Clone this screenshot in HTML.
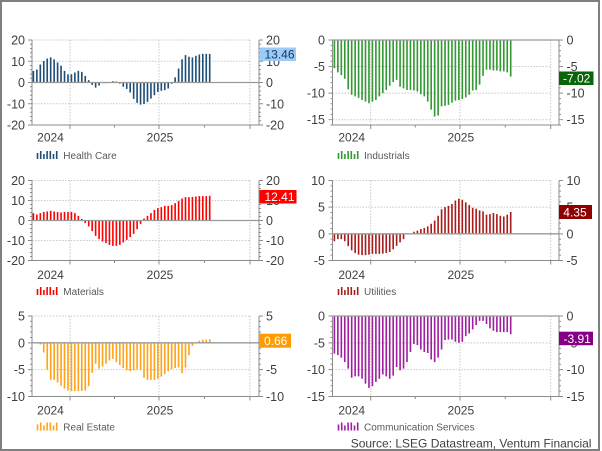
<!DOCTYPE html>
<html><head><meta charset="utf-8"><style>html,body{margin:0;padding:0;background:#fff}svg{display:block}</style></head>
<body>
<svg width="602" height="451" viewBox="0 0 602 451" xmlns="http://www.w3.org/2000/svg" font-family="'Liberation Sans', Arial, sans-serif">
<rect width="602" height="451" fill="#fff"/>
<rect x="1" y="1" width="598" height="449" fill="none" stroke="#7f7f7f" stroke-width="2"/>
<defs>
<path id="t20" d="M-2 -20H0M-2 -18H0M-2 -16H0M-2 -14H0M-2 -12H0M-2 -10H0M-2 -8H0M-2 -6H0M-2 -4H0M-2 -2H0M-2 0H0M-2 2H0M-2 4H0M-2 6H0M-2 8H0M-2 10H0M-2 12H0M-2 14H0M-2 16H0M-2 18H0M-2 20H0M-4 -20H0M-4 -10H0M-4 0H0M-4 10H0M-4 20H0"/>
<path id="t15" d="M-2 -15H0M-2 -14H0M-2 -13H0M-2 -12H0M-2 -11H0M-2 -10H0M-2 -9H0M-2 -8H0M-2 -7H0M-2 -6H0M-2 -5H0M-2 -4H0M-2 -3H0M-2 -2H0M-2 -1H0M-2 0H0M-4 -15H0M-4 -10H0M-4 -5H0M-4 0H0"/>
<g id="leg"><rect x="0" y="-6" width="1.6" height="6"/><rect x="3.2" y="-8" width="1.6" height="8"/><rect x="6.4" y="-5" width="1.6" height="5"/><rect x="9.6" y="-8" width="1.6" height="8"/><rect x="12.8" y="-8" width="1.6" height="8"/><rect x="16" y="-5" width="1.6" height="5"/><rect x="19.2" y="-8" width="1.6" height="8"/></g>
</defs>

<!-- Panel A: Health Care -->
<path d="M32 40H250M32 61.25H250M32 103.75H250M70 40V125M159 40V125M250 40V125" stroke="#c8c8c8" stroke-dasharray="1.5 1.5" fill="none"/>
<g transform="translate(33.4 82.5) scale(3.457 -2.125)" stroke="#1f4e79" stroke-width="0.47" fill="none"><path d="M0 0V5.4M1 0V6.1M2 0V8.5M3 0V10.1M4 0V11.3M5 0V11.8M6 0V10.9M7 0V9.4M8 0V7.9M9 0V5.5M10 0V3.8M11 0V3.9M12 0V4.7M13 0V5.5M14 0V5M15 0V3.1M16 0V1.1M17 0V-1.1M18 0V-2.4M19 0V-1.4M20 0V-0.3M21 0V-0.3M22 0V0.05M23 0V0.6M24 0V0.5M25 0V-0.5M26 0V-2M27 0V-3M28 0V-4.7M29 0V-7.7M30 0V-9.6M31 0V-10.4M32 0V-10.1M33 0V-9.1M34 0V-7.6M35 0V-6M36 0V-4.4M37 0V-3.9M38 0V-3.6M39 0V-2.8M40 0V-0.6M41 0V2.4M42 0V6.6M43 0V10.9M44 0V12.9M45 0V12.1M46 0V11.8M47 0V12.6M48 0V13.2M49 0V13.5M50 0V13.5M51 0V13.46"/></g>
<path d="M32 40V125H259M259 40V125M70 125v4M159 125v4M250 125v4M114.5 125v2.5M204.5 125v2.5" stroke="#8c8c8c" fill="none"/>
<path d="M32 82.5H259" stroke="#999" stroke-width="1.3"/>
<g transform="translate(32 82.5) scale(1 -2.125)" stroke="#8c8c8c" stroke-width="0.47"><use href="#t20"/></g>
<g transform="translate(259 82.5) scale(-1 -2.125)" stroke="#8c8c8c" stroke-width="0.47"><use href="#t20"/></g>
<g font-size="12.5" fill="#404040" text-anchor="end"><text x="25" y="44.5">20</text><text x="25" y="65.75">10</text><text x="25" y="87">0</text><text x="25" y="108.25">-10</text><text x="25" y="129.5">-20</text></g>
<g font-size="12.5" fill="#404040"><text x="266" y="44.5">20</text><text x="266" y="65.75">10</text><text x="266" y="87">0</text><text x="266" y="108.25">-10</text><text x="266" y="129.5">-20</text></g>
<g font-size="12" fill="#404040" text-anchor="middle"><text x="50.5" y="141.7">2024</text><text x="160" y="141.7">2025</text></g>
<use href="#leg" x="36.7" y="159" fill="#1f4e79"/>
<text x="63.3" y="159" font-size="10" fill="#595959">Health Care</text>
<rect x="260" y="47.5" width="36" height="13.5" fill="#9ccbf7"/>
<text x="264.5" y="58.6" font-size="12" fill="#17375e">13.46</text>

<!-- Panel B: Industrials -->
<path d="M332.5 66.56H550.7M332.5 93.13H550.7M332.5 119.69H550.7M370.7 40V125M460 40V125M550.7 40V125" stroke="#c8c8c8" stroke-dasharray="1.5 1.5" fill="none"/>
<g transform="translate(334.4 40) scale(3.457 -5.3125)" stroke="#339933" stroke-width="0.47" fill="none"><path d="M0 0V-5.3M1 0V-6.1M2 0V-6.6M3 0V-7.3M4 0V-9.3M5 0V-10.3M6 0V-10.6M7 0V-10.9M8 0V-11.3M9 0V-11.6M10 0V-11.9M11 0V-11.6M12 0V-11.3M13 0V-10.6M14 0V-10M15 0V-9.4M16 0V-8.6M17 0V-7.9M18 0V-7.5M19 0V-8.8M20 0V-9.1M21 0V-9.4M22 0V-9.4M23 0V-9.5M24 0V-9.7M25 0V-10.2M26 0V-10.6M27 0V-11.6M28 0V-13.1M29 0V-14.4M30 0V-14.2M31 0V-12.5M32 0V-12.4M33 0V-12.2M34 0V-11.8M35 0V-11.4M36 0V-11.3M37 0V-11.1M38 0V-10.8M39 0V-10.3M40 0V-9.5M41 0V-9.4M42 0V-8.4M43 0V-6.75M44 0V-5.6M45 0V-5.6M46 0V-5.75M47 0V-5.75M48 0V-5.9M49 0V-5.9M50 0V-6.1M51 0V-6.9"/></g>
<path d="M332.5 40V125H559M559 40V125M370.7 125v4M460 125v4M550.7 125v4M415.3 125v2.5M505.3 125v2.5" stroke="#8c8c8c" fill="none"/>
<path d="M332.5 40H559" stroke="#999" stroke-width="1.3"/>
<g transform="translate(332.5 40) scale(1 -5.3125)" stroke="#8c8c8c" stroke-width="0.188"><use href="#t15"/><path d="M-2 -16H0"/></g>
<g transform="translate(559 40) scale(-1 -5.3125)" stroke="#8c8c8c" stroke-width="0.188"><use href="#t15"/><path d="M-2 -16H0"/></g>
<g font-size="12.5" fill="#404040" text-anchor="end"><text x="325" y="44.5">0</text><text x="325" y="71.06">-5</text><text x="325" y="97.63">-10</text><text x="325" y="124.19">-15</text></g>
<g font-size="12.5" fill="#404040"><text x="566.5" y="44.5">0</text><text x="566.5" y="71.06">-5</text><text x="566.5" y="97.63">-10</text><text x="566.5" y="124.19">-15</text></g>
<g font-size="12" fill="#404040" text-anchor="middle"><text x="351.7" y="141.7">2024</text><text x="460.8" y="141.7">2025</text></g>
<use href="#leg" x="337.7" y="159" fill="#339933"/>
<text x="364" y="159" font-size="10" fill="#595959">Industrials</text>
<rect x="559" y="71.5" width="34.5" height="13.5" fill="#0a640a"/>
<text x="563" y="82.6" font-size="12" fill="#fff">-7.02</text>

<!-- Panel C: Materials -->
<path d="M32 180.5H250M32 200.5H250M32 240.5H250M70 180.5V260.5M159 180.5V260.5M250 180.5V260.5" stroke="#c8c8c8" stroke-dasharray="1.5 1.5" fill="none"/>
<g transform="translate(33.4 220.5) scale(3.457 -2)" stroke="#ff0000" stroke-width="0.47" fill="none"><path d="M0 0V3.7M1 0V3M2 0V3.7M3 0V4.3M4 0V4.5M5 0V4.8M6 0V4.5M7 0V4.2M8 0V4M9 0V4.3M10 0V4.3M11 0V4.3M12 0V3.7M13 0V2.3M14 0V0.8M15 0V-1.3M16 0V-3M17 0V-5.3M18 0V-7.7M19 0V-9.3M20 0V-10.5M21 0V-11.3M22 0V-12.2M23 0V-12.7M24 0V-12.7M25 0V-12.2M26 0V-11M27 0V-9.7M28 0V-8.3M29 0V-6.7M30 0V-4.3M31 0V-1.7M32 0V1M33 0V2.3M34 0V3.7M35 0V5.3M36 0V6.2M37 0V6.7M38 0V7.3M39 0V7.3M40 0V7.7M41 0V8.7M42 0V9.8M43 0V11M44 0V11.7M45 0V11.7M46 0V11.8M47 0V12M48 0V12.2M49 0V12.2M50 0V12.2M51 0V12.4"/></g>
<path d="M32 180.5V260.5H259M259 180.5V260.5M70 260.5v4M159 260.5v4M250 260.5v4M114.5 260.5v2.5M204.5 260.5v2.5" stroke="#8c8c8c" fill="none"/>
<path d="M32 220.5H259" stroke="#999" stroke-width="1.3"/>
<g transform="translate(32 220.5) scale(1 -2)" stroke="#8c8c8c" stroke-width="0.5"><use href="#t20"/></g>
<g transform="translate(259 220.5) scale(-1 -2)" stroke="#8c8c8c" stroke-width="0.5"><use href="#t20"/></g>
<g font-size="12.5" fill="#404040" text-anchor="end"><text x="25" y="185">20</text><text x="25" y="205">10</text><text x="25" y="225">0</text><text x="25" y="245">-10</text><text x="25" y="265">-20</text></g>
<g font-size="12.5" fill="#404040"><text x="266" y="185">20</text><text x="266" y="205">10</text><text x="266" y="225">0</text><text x="266" y="245">-10</text><text x="266" y="265">-20</text></g>
<g font-size="12" fill="#404040" text-anchor="middle"><text x="50.5" y="279">2024</text><text x="160" y="279">2025</text></g>
<use href="#leg" x="36.7" y="295" fill="#ff0000"/>
<text x="63.3" y="295" font-size="10" fill="#595959">Materials</text>
<rect x="259.5" y="190" width="37" height="13.5" fill="#ff0000"/>
<text x="264.5" y="201.1" font-size="12" fill="#fff">12.41</text>

<!-- Panel D: Utilities -->
<path d="M332.5 180.5H550.7M332.5 207.17H550.7M370.7 180.5V260.5M460 180.5V260.5M550.7 180.5V260.5" stroke="#c8c8c8" stroke-dasharray="1.5 1.5" fill="none"/>
<g transform="translate(334.4 233.83) scale(3.457 -5.3333)" stroke="#a81c1c" stroke-width="0.47" fill="none"><path d="M0 0V-1.4M1 0V-1M2 0V-1M3 0V-1.4M4 0V-2.3M5 0V-3.1M6 0V-3.6M7 0V-3.9M8 0V-4M9 0V-4M10 0V-3.9M11 0V-3.75M12 0V-3.75M13 0V-3.75M14 0V-3.7M15 0V-3.6M16 0V-3.4M17 0V-2.9M18 0V-2.25M19 0V-1.6M20 0V-1M21 0V-0.1M22 0V0.05M23 0V0.4M24 0V0.6M25 0V0.9M26 0V1.1M27 0V1.4M28 0V1.9M29 0V2.5M30 0V3.4M31 0V4.6M32 0V5M33 0V5.25M34 0V5.6M35 0V6.25M36 0V6.6M37 0V6.4M38 0V5.9M39 0V5.4M40 0V4.9M41 0V4.7M42 0V4.4M43 0V4.2M44 0V3.6M45 0V3.7M46 0V3.9M47 0V3.7M48 0V3.4M49 0V3.25M50 0V3.6M51 0V4.1"/></g>
<path d="M332.5 180.5V260.5H559M559 180.5V260.5M370.7 260.5v4M460 260.5v4M550.7 260.5v4M415.3 260.5v2.5M505.3 260.5v2.5" stroke="#8c8c8c" fill="none"/>
<path d="M332.5 233.83H559" stroke="#999" stroke-width="1.3"/>
<g transform="translate(332.5 233.83) scale(1 -5.3333) translate(0 10)" stroke="#8c8c8c" stroke-width="0.1875"><use href="#t15"/></g>
<g transform="translate(559 233.83) scale(-1 -5.3333) translate(0 10)" stroke="#8c8c8c" stroke-width="0.1875"><use href="#t15"/></g>
<g font-size="12.5" fill="#404040" text-anchor="end"><text x="325" y="185">10</text><text x="325" y="211.67">5</text><text x="325" y="238.33">0</text><text x="325" y="265">-5</text></g>
<g font-size="12.5" fill="#404040"><text x="566.5" y="185">10</text><text x="566.5" y="211.67">5</text><text x="566.5" y="238.33">0</text><text x="566.5" y="265">-5</text></g>
<g font-size="12" fill="#404040" text-anchor="middle"><text x="351.7" y="279">2024</text><text x="460.8" y="279">2025</text></g>
<use href="#leg" x="337.7" y="295" fill="#a81c1c"/>
<text x="364" y="295" font-size="10" fill="#595959">Utilities</text>
<rect x="559" y="205" width="33" height="14" fill="#8f0000"/>
<text x="563.3" y="216.3" font-size="12" fill="#fff">4.35</text>

<!-- Panel E: Real Estate -->
<path d="M32 316H250M32 369.67H250M70 316V396.5M159 316V396.5M250 316V396.5" stroke="#c8c8c8" stroke-dasharray="1.5 1.5" fill="none"/>
<g transform="translate(33.4 342.83) scale(3.457 -5.3667)" stroke="#ffa31a" stroke-width="0.47" fill="none"><path d="M1 0V-0.05M2 0V-0.3M3 0V-1.8M4 0V-5M5 0V-6.9M6 0V-6.9M7 0V-7.4M8 0V-8M9 0V-8.5M10 0V-8.9M11 0V-9M12 0V-9M13 0V-9M14 0V-9M15 0V-8.9M16 0V-8.1M17 0V-5.6M18 0V-3.9M19 0V-4.8M20 0V-4.4M21 0V-3.9M22 0V-3.3M23 0V-3M24 0V-3.6M25 0V-4.1M26 0V-4.7M27 0V-5.1M28 0V-5.3M29 0V-5.1M30 0V-5M31 0V-5.1M32 0V-6.5M33 0V-6.9M34 0V-6.9M35 0V-6.9M36 0V-6.7M37 0V-6.3M38 0V-5.8M39 0V-5.3M40 0V-4.9M41 0V-4.7M42 0V-4.6M43 0V-5.7M44 0V-4.6M45 0V-2.3M46 0V-0.6M47 0V0.05M48 0V0.4M49 0V0.6M50 0V0.6M51 0V0.66"/></g>
<path d="M32 316V396.5H259M259 316V396.5M70 396.5v4M159 396.5v4M250 396.5v4M114.5 396.5v2.5M204.5 396.5v2.5" stroke="#8c8c8c" fill="none"/>
<path d="M32 342.83H259" stroke="#999" stroke-width="1.3"/>
<g transform="translate(32 342.83) scale(1 -5.3667) translate(0 5)" stroke="#8c8c8c" stroke-width="0.1863"><use href="#t15"/></g>
<g transform="translate(259 342.83) scale(-1 -5.3667) translate(0 5)" stroke="#8c8c8c" stroke-width="0.1863"><use href="#t15"/></g>
<g font-size="12.5" fill="#404040" text-anchor="end"><text x="25" y="320.5">5</text><text x="25" y="347.33">0</text><text x="25" y="374.17">-5</text><text x="25" y="401">-10</text></g>
<g font-size="12.5" fill="#404040"><text x="266" y="320.5">5</text><text x="266" y="347.33">0</text><text x="266" y="374.17">-5</text><text x="266" y="401">-10</text></g>
<g font-size="12" fill="#404040" text-anchor="middle"><text x="50.5" y="414.3">2024</text><text x="160" y="414.3">2025</text></g>
<use href="#leg" x="36.7" y="430.5" fill="#ffa31a"/>
<text x="63.3" y="430.5" font-size="10" fill="#595959">Real Estate</text>
<rect x="259" y="333.7" width="32" height="14" fill="#ff9a00"/>
<text x="264" y="345" font-size="12" fill="#fff">0.66</text>

<!-- Panel F: Communication Services -->
<path d="M332.5 342.83H550.7M332.5 369.67H550.7M370.7 316V396.5M460 316V396.5M550.7 316V396.5" stroke="#c8c8c8" stroke-dasharray="1.5 1.5" fill="none"/>
<g transform="translate(334.4 316) scale(3.457 -5.3667)" stroke="#a01fa0" stroke-width="0.47" fill="none"><path d="M0 0V-7M1 0V-7.3M2 0V-7.75M3 0V-8.6M4 0V-9.8M5 0V-11.5M6 0V-11.25M7 0V-11.25M8 0V-11.7M9 0V-12.6M10 0V-13.4M11 0V-13.1M12 0V-12.3M13 0V-11.7M14 0V-10.9M15 0V-11.25M16 0V-11.7M17 0V-11.1M18 0V-9.5M19 0V-10.1M20 0V-9.8M21 0V-8.6M22 0V-6.7M23 0V-5.25M24 0V-5.4M25 0V-6.25M26 0V-6.7M27 0V-6.9M28 0V-8.1M29 0V-8.6M30 0V-7.75M31 0V-6.25M32 0V-4.5M33 0V-4.4M34 0V-4.4M35 0V-4.8M36 0V-5M37 0V-4.8M38 0V-3.75M39 0V-3.25M40 0V-2.5M41 0V-1.7M42 0V-0.9M43 0V-0.9M44 0V-1.5M45 0V-2.3M46 0V-2.75M47 0V-3M48 0V-3M49 0V-3M50 0V-3M51 0V-3.4"/></g>
<path d="M332.5 316V396.5H559M559 316V396.5M370.7 396.5v4M460 396.5v4M550.7 396.5v4M415.3 396.5v2.5M505.3 396.5v2.5" stroke="#8c8c8c" fill="none"/>
<path d="M332.5 316H559" stroke="#999" stroke-width="1.3"/>
<g transform="translate(332.5 316) scale(1 -5.3667)" stroke="#8c8c8c" stroke-width="0.1863"><use href="#t15"/></g>
<g transform="translate(559 316) scale(-1 -5.3667)" stroke="#8c8c8c" stroke-width="0.1863"><use href="#t15"/></g>
<g font-size="12.5" fill="#404040" text-anchor="end"><text x="325" y="320.5">0</text><text x="325" y="347.33">-5</text><text x="325" y="374.17">-10</text><text x="325" y="401">-15</text></g>
<g font-size="12.5" fill="#404040"><text x="566.5" y="320.5">0</text><text x="566.5" y="347.33">-5</text><text x="566.5" y="374.17">-10</text><text x="566.5" y="401">-15</text></g>
<g font-size="12" fill="#404040" text-anchor="middle"><text x="351.7" y="414.3">2024</text><text x="460.8" y="414.3">2025</text></g>
<use href="#leg" x="337.7" y="430.5" fill="#a01fa0"/>
<text x="364" y="430.5" font-size="10" fill="#595959">Communication Services</text>
<rect x="559" y="331.7" width="34" height="13.5" fill="#850085"/>
<text x="563.5" y="342.8" font-size="12" fill="#fff">-3.91</text>

<text x="350.7" y="447.3" font-size="12" fill="#404040">Source: LSEG Datastream, Ventum Financial</text>
</svg>
</body></html>
